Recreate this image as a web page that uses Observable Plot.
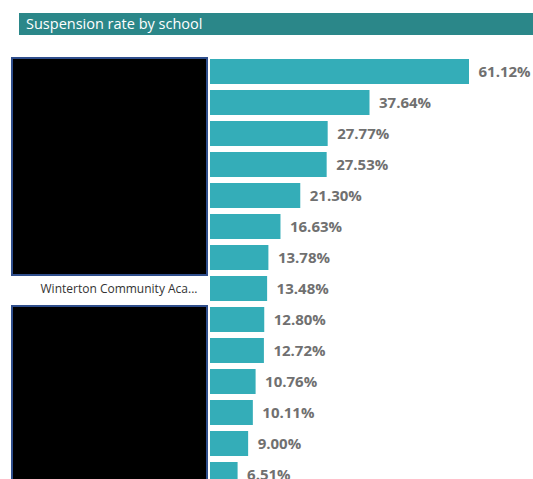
<!DOCTYPE html>
<html>
<head>
<meta charset="utf-8">
<script src="https://cdn.jsdelivr.net/npm/d3@7"></script>
<script src="https://cdn.jsdelivr.net/npm/@observablehq/plot@0.6"></script>
<style>
  html, body { margin: 0; padding: 0; background: #fff; overflow: hidden; width: 533px; height: 479px; }
  #title {
    position: absolute; left: 19px; top: 13px; width: 514px; height: 22px;
    background: #2b8789; color: #fff; font-family: "Open Sans", "Noto Sans", sans-serif;
    font-size: 14.5px; line-height: 22px; padding-left: 7px; box-sizing: border-box;
  }
  #chart { position: absolute; left: 0; top: 35px; }
</style>
</head>
<body>
<div id="title">Suspension rate by school</div>
<div id="chart"></div>
<script>
// School names: most are redacted in the source image (shown as black boxes)
const schools = [
  "School 1", "School 2", "School 3", "School 4", "School 5", "School 6", "School 7",
  "Winterton Community Aca...",
  "School 9", "School 10", "School 11", "School 12", "School 13", "School 14"
];
const rates = [61.12, 37.64, 27.77, 27.53, 21.30, 16.63, 13.78, 13.48, 12.80, 12.72, 10.76, 10.11, 9.00, 6.51];
const visibleLabels = ["Winterton Community Aca..."];
// redacted groups: [first school, last school] in each black box
const redactedGroups = [["School 1", "School 7"], ["School 9", "School 14"]];

const data = schools.map((s, i) => ({school: s, rate: rates[i]}));

const redactionMark = (index, scales, values, dims) => {
  const g = document.createElementNS("http://www.w3.org/2000/svg", "g");
  const y = scales.y;
  const step = y.step();
  const bw = y.bandwidth();
  const pad = (step - bw) / 2;
  for (const [a, b] of redactedGroups) {
    const top = y(a) - pad + 2;
    const bottom = y(b) + bw + pad + 2;
    const r = document.createElementNS("http://www.w3.org/2000/svg", "rect");
    r.setAttribute("x", 12);
    r.setAttribute("y", top);
    r.setAttribute("width", dims.marginLeft - 15);
    r.setAttribute("height", bottom - top);
    r.setAttribute("fill", "#000");
    r.setAttribute("stroke", "#2f4e8c");
    r.setAttribute("stroke-width", 2);
    g.appendChild(r);
  }
  return g;
};

const chart = Plot.plot({
  width: 533,
  height: 460,
  marginLeft: 210,
  marginRight: 64,
  marginTop: 16,
  marginBottom: 0,
  style: {fontFamily: "'Open Sans', 'Noto Sans', sans-serif"},
  x: {domain: [0, d3.max(rates)], axis: null},
  y: {domain: schools, padding: 0.2, label: null},
  marks: [
    Plot.barX(data, {y: "school", x: "rate", fill: "#34adb8"}),
    Plot.text(data, {
      y: "school", x: "rate", text: d => d.rate.toFixed(2) + "%",
      textAnchor: "start", dx: 9, fontSize: 15, fontWeight: "bold", fill: "#707070"
    }),
    Plot.axisY({
      tickSize: 0, tickPadding: 13, fontSize: 12, fill: "#333",
      tickFormat: d => visibleLabels.includes(d) ? d : ""
    }),
    redactionMark
  ]
});
document.getElementById("chart").appendChild(chart);
</script>
</body>
</html>
